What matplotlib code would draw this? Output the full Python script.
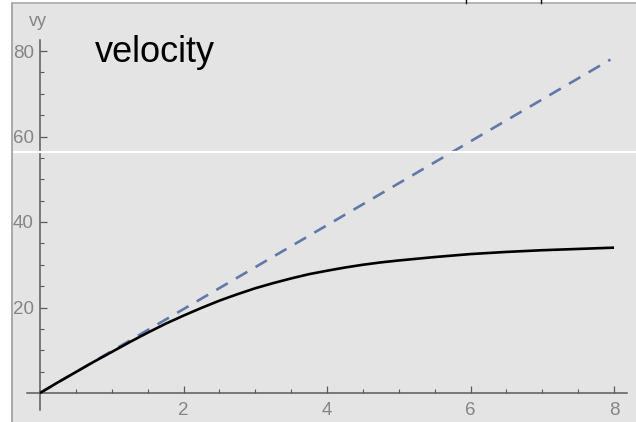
import matplotlib
matplotlib.use("Agg")
import matplotlib.pyplot as plt
from matplotlib.lines import Line2D
from matplotlib.ticker import FixedLocator

# data
t = [0, 0.25, 0.5, 0.75, 1, 1.25, 1.5, 1.75, 2, 2.25, 2.5, 2.75, 3, 3.25, 3.5, 3.75, 4,
     4.25, 4.5, 4.75, 5, 5.25, 5.5, 5.75, 6, 6.25, 6.5, 6.75, 7, 7.25, 7.5, 7.75, 8]
v_drag = [0, 2.5, 4.9, 7.3, 9.6, 11.9, 14.1, 16.2, 18.1, 19.9, 21.6, 23.1, 24.5, 25.7, 26.8,
          27.8, 28.6, 29.35, 30.0, 30.55, 31.0, 31.4, 31.8, 32.15, 32.5, 32.75, 33.0, 33.2,
          33.4, 33.55, 33.7, 33.85, 34.0]
t_free = [0, 7.95]
v_free = [0, 78.0]
x_major = [2, 4, 6, 8]
x_minor = [0.5, 1, 1.5, 2.5, 3, 3.5, 4.5, 5, 5.5, 6.5, 7, 7.5]
y_major = [20, 40, 60, 80]
y_minor = [5, 10, 15, 25, 30, 35, 45, 50, 55, 65, 70, 75]
y_label = "vy"
title = "velocity"

W, H = 636, 422
fig = plt.figure(figsize=(W / 100, H / 100), dpi=100, facecolor="white")
left_px, top_px = 12, 4
ax = fig.add_axes([left_px / W, 0, 1 - left_px / W, (H - top_px) / H])
bg = "#e4e4e4"
ax.set_facecolor(bg)

x0_px, sx = 40, 71.75
y0_px, sy = 393, 4.275
ax.set_xlim((left_px - x0_px) / sx, (W - x0_px) / sx)
ax.set_ylim((y0_px - H) / sy, (y0_px - top_px) / sy)

ax.plot(t_free, v_free, color="#6079a8", lw=1.9, dashes=(5, 3.6), zorder=3)
ax.plot(t, v_drag, color="black", lw=1.9, zorder=4, solid_capstyle="butt")

axc = "#5a5a5a"
for s in ["top", "right"]:
    ax.spines[s].set_visible(False)
ax.spines["left"].set_position(("data", 0))
ax.spines["bottom"].set_position(("data", 0))
ax.spines["left"].set_bounds(-4, 82.6)
ax.spines["bottom"].set_bounds(-0.18, 8.18)
for s in ["left", "bottom"]:
    ax.spines[s].set_color(axc)
    ax.spines[s].set_linewidth(1.1)

ax.xaxis.set_major_locator(FixedLocator(x_major))
ax.xaxis.set_minor_locator(FixedLocator(x_minor))
ax.yaxis.set_major_locator(FixedLocator(y_major))
ax.yaxis.set_minor_locator(FixedLocator(y_minor))
ax.set_xticklabels([str(v) for v in x_major])
ax.set_yticklabels([str(v) for v in y_major])
lab = "#858585"
ax.tick_params(axis="both", which="major", direction="in", length=5, width=0.9,
               color=axc, labelcolor=lab)
ax.tick_params(axis="both", which="minor", direction="in", length=3, width=0.8, color=axc)
ax.tick_params(axis="x", which="major", pad=6.5, labelsize=13.5)
ax.tick_params(axis="y", which="major", pad=4.5, labelsize=13.5)
for lbl in ax.get_xticklabels() + ax.get_yticklabels():
    lbl.set_fontfamily("Liberation Sans")

# white horizontal seam
ax.axhline((y0_px - 152) / sy, color="white", lw=1.6, zorder=10)

fig.text(38 / W, 1 - 21 / H, y_label, color=lab, fontsize=13, family="Liberation Sans",
         ha="center", va="center")
fig.text(95 / W, 1 - 62 / H, title, color="black", fontsize=26, family="Liberation Sans",
         ha="left", va="baseline")

# frame lines
fig.add_artist(Line2D([left_px / W, left_px / W], [0, (H - top_px) / H], color="#a8a8a8", lw=1.4))
fig.add_artist(Line2D([left_px / W, 1], [(H - top_px + 0.7) / H] * 2, color="#a8a8a8", lw=1.2))
for xp in [466, 541]:
    fig.add_artist(Line2D([xp / W, xp / W], [1, (H - 3) / H], color="black", lw=1.0))

fig.savefig("out.png", dpi=100, facecolor="white")
